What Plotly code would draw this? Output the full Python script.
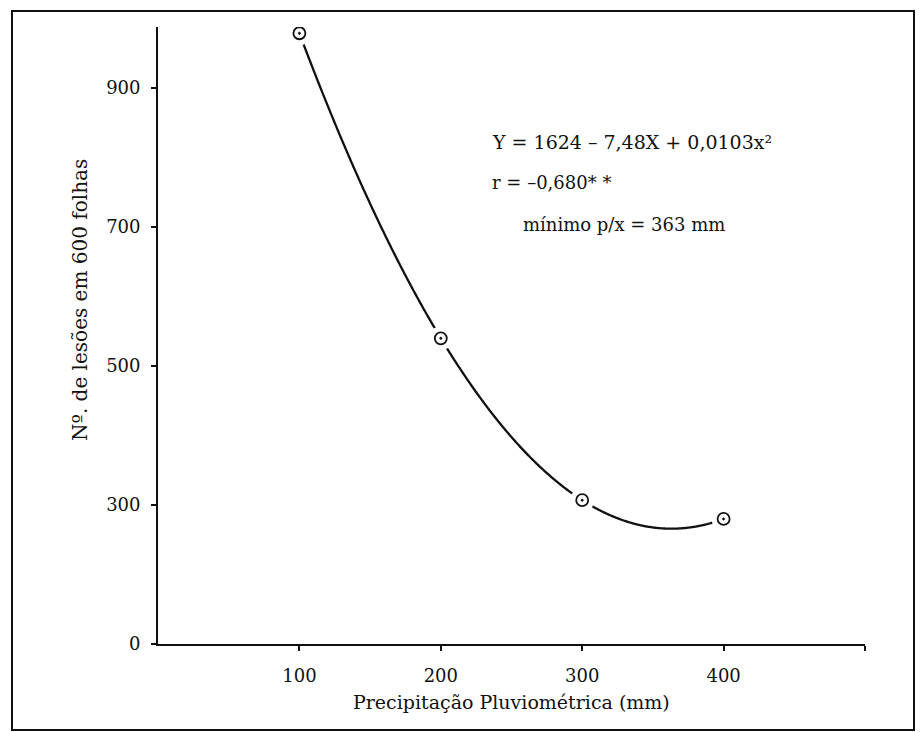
import numpy as np
import plotly.graph_objects as go

# Observed rainfall (mm) and lesion counts
precip = [100, 200, 300, 400]
lesions = [979, 540, 307, 280]

# Quadratic fit coefficients: Y = a + b X + c X^2
coef_a = 1624
coef_b = -7.48
coef_c = 0.0103

y_tickvals = [100, 300, 500, 700, 900]
y_ticktext = ["0", "300", "500", "700", "900"]
x_tickvals = [100, 200, 300, 400, 500]
x_ticktext = ["100", "200", "300", "400", ""]

x_title = "Precipitação Pluviométrica (mm)"
y_title = "Nº. de lesões em 600 folhas"

xs = np.linspace(precip[0], precip[-1], 300)
ys = coef_a + coef_b * xs + coef_c * xs ** 2

FONT = "DejaVu Serif"
INK = "#111111"

fig = go.Figure()
fig.add_trace(go.Scatter(x=xs, y=ys, mode="lines",
                         line=dict(color=INK, width=2.3, shape="spline"),
                         hoverinfo="skip", showlegend=False))
# white halo that breaks the curve around each observation
fig.add_trace(go.Scatter(x=precip, y=lesions, mode="markers",
                         marker=dict(symbol="circle", size=24, color="white",
                                     line=dict(width=0)),
                         hoverinfo="skip", showlegend=False))
fig.add_trace(go.Scatter(x=precip, y=lesions, mode="markers",
                         marker=dict(symbol="circle-dot", size=12, color="white",
                                     line=dict(color=INK, width=1.8)),
                         showlegend=False))

axis_common = dict(showline=True, linecolor=INK, linewidth=1.8,
                   ticks="outside", ticklen=5, tickcolor=INK, tickwidth=1.5,
                   showgrid=False, zeroline=False,
                   tickfont=dict(family=FONT, size=18, color=INK))
fig.update_xaxes(range=[0, 500], tickvals=x_tickvals, ticktext=x_ticktext,
                 ticklabelstandoff=9, **axis_common)
fig.update_yaxes(range=[100, 988], tickvals=y_tickvals, ticktext=y_ticktext,
                 ticklabelstandoff=7, **axis_common)

L, R, T, B = 158, 57, 27, 88
W, H = 922, 732
pw, ph = W - L - R, H - T - B


def at(px, py):
    """Pixel position on the page -> paper coordinates."""
    return (px - L) / pw, (H - B - py) / ph


notes = [
    ("Y = 1624 – 7,48X + 0,0103x²", 490, 142, 19, "left", 0),
    ("r = –0,680* *", 490, 183, 18, "left", 0),
    ("mínimo p/x = 363 mm", 521, 225, 18, "left", 0),
    (x_title, 511, 702, 19, "center", 0),
    (y_title, 80, 300, 20, "center", -90),
]
for text, px, py, size, anchor, angle in notes:
    x, y = at(px, py)
    fig.add_annotation(text=text, xref="paper", yref="paper", x=x, y=y,
                       xanchor=anchor, yanchor="middle", showarrow=False,
                       textangle=angle,
                       font=dict(family=FONT, size=size, color=INK))

# outer frame around the figure
x0, y1 = at(12, 11)
x1, y0 = at(914, 730)
fig.add_shape(type="rect", xref="paper", yref="paper",
              x0=x0, x1=x1, y0=y0, y1=y1,
              line=dict(color=INK, width=2))

fig.update_layout(width=W, height=H, margin=dict(l=L, r=R, t=T, b=B),
                  paper_bgcolor="white", plot_bgcolor="white",
                  font=dict(family=FONT, color=INK))
fig.write_html("out.html")
